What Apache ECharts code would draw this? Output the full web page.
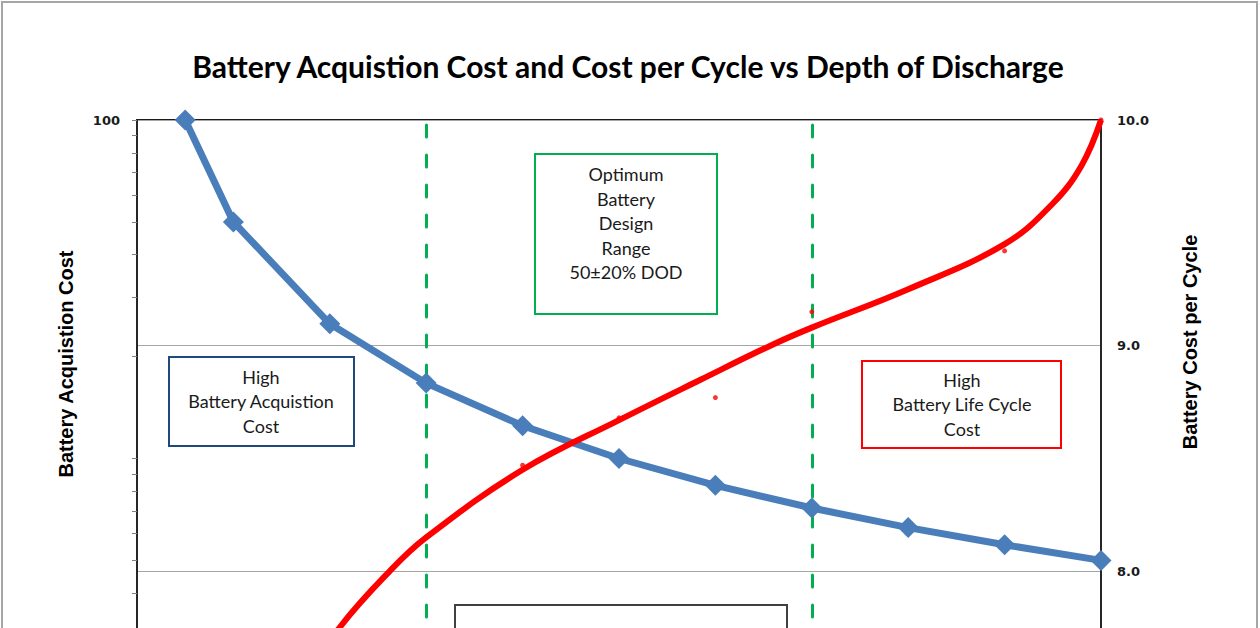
<!DOCTYPE html>
<html>
<head>
<meta charset="utf-8">
<script src="https://cdn.jsdelivr.net/npm/echarts@6/dist/echarts.min.js"></script>
<style>
html,body{margin:0;padding:0;background:#fff;}
#chart{width:1260px;height:628px;}
</style>
</head>
<body>
<div id="chart"></div>
<script>
// Depth of discharge (%) for the acquisition-cost series
const dodPoints = [5, 10, 20, 30, 40, 50, 60, 70, 80, 90, 100];
// Battery acquisition cost (log axis)
const acquisitionCost = [100, 50, 25, 16.7, 12.5, 10, 8.33, 7.14, 6.25, 5.56, 5];
// Cost-per-cycle curve (trend line)
const cycleCurveDod = [15, 21, 26.2, 30, 40, 50, 58.5, 65.7, 70, 80, 90, 95, 98, 100];
const cycleCurveCost = [7.38, 7.75, 8.0, 8.15, 8.45, 8.67, 8.85, 9.0, 9.08, 9.25, 9.45, 9.63, 9.8, 10.0];
// Cost-per-cycle data points (small markers)
const cycleDotDod = [30, 40, 50, 60, 70, 80, 90, 100];
const cycleDotCost = [8.15, 8.47, 8.68, 8.77, 9.15, 9.25, 9.42, 10.0];
// Design-range boundaries
const rangeLines = [30, 70];
// Tick positions for left log axis
const leftTickValues = [2, 3, 4, 5, 6, 7, 8, 9, 10, 20, 30, 40, 50, 60, 70, 80, 90, 100];
const leftLabelValues = [100];
const rightLabelValues = [8, 9, 10];

const chart = echarts.init(document.getElementById('chart'), null, {renderer: 'svg'});

const titleFont = 'Lato, "Open Sans", sans-serif';
const boxFont = 'Lato, "Open Sans", sans-serif';

const option = {
  animation: false,
  backgroundColor: '#ffffff',
  grid: {
    left: 137, right: 159, top: 120, bottom: -169,
    containLabel: false,
    outerBoundsMode: 'none',
    show: true, borderColor: '#1a1a1a', borderWidth: 2, backgroundColor: 'transparent'
  },
  xAxis: {
    type: 'value', min: 0, max: 100, interval: 10,
    axisLine: {show: false}, axisTick: {show: false}, axisLabel: {show: false}, splitLine: {show: false}
  },
  yAxis: [
    {
      type: 'log', logBase: 10, min: 1, max: 100, position: 'left',
      axisLine: {show: true, lineStyle: {color: '#262626', width: 2}},
      axisTick: {show: true, inside: false, length: 5, customValues: leftTickValues, lineStyle: {color: '#7f7f7f', width: 1}},
      axisLabel: {
        show: true, customValues: leftLabelValues, margin: 17,
        formatter: v => String(Math.round(v)),
        fontFamily: '"DejaVu Sans", Verdana, sans-serif', fontWeight: 'bold', fontSize: 13, color: '#1a1a1a'
      },
      splitLine: {show: false},
      minorTick: {show: false}
    },
    {
      type: 'value', min: 7, max: 10, interval: 1, position: 'right',
      axisLine: {show: true, onZero: false, lineStyle: {color: '#262626', width: 2}},
      axisTick: {show: false},
      axisLabel: {
        show: true, margin: 16, customValues: rightLabelValues,
        formatter: v => v.toFixed(1),
        fontFamily: '"DejaVu Sans", Verdana, sans-serif', fontWeight: 'bold', fontSize: 13, color: '#1a1a1a'
      },
      splitLine: {show: true, lineStyle: {color: '#a6a6a6', width: 1}}
    }
  ],
  series: [
    {
      name: 'Battery Acquistion Cost',
      type: 'line', xAxisIndex: 0, yAxisIndex: 0,
      data: dodPoints.map((x, i) => [x, acquisitionCost[i]]),
      symbol: 'diamond', symbolSize: 21,
      itemStyle: {color: '#4a7ebb'},
      lineStyle: {color: '#4a7ebb', width: 7},
      z: 3,
      markLine: {
        silent: true, symbol: 'none', animation: false,
        label: {show: false},
        lineStyle: {color: '#00b050', width: 3, type: [12, 18], cap: 'round'},
        data: rangeLines.map(x => ({xAxis: x})),
        z: 1
      }
    },
    {
      name: 'Battery Cost per Cycle (trend)',
      type: 'line', xAxisIndex: 0, yAxisIndex: 1,
      data: cycleCurveDod.map((x, i) => [x, cycleCurveCost[i]]),
      smooth: 0.4, showSymbol: false, symbol: 'none',
      lineStyle: {color: '#ff0000', width: 6},
      z: 4
    },
    {
      name: 'Battery Cost per Cycle',
      type: 'scatter', xAxisIndex: 0, yAxisIndex: 1,
      data: cycleDotDod.map((x, i) => [x, cycleDotCost[i]]),
      symbol: 'circle', symbolSize: 5,
      itemStyle: {color: '#ff0000'},
      z: 5
    }
  ],
  graphic: [
    {type: 'rect', shape: {x: 2, y: 2, width: 1255, height: 660}, style: {fill: 'none', stroke: '#a6a6a6', lineWidth: 2}, z: 100, silent: true},
    {type: 'text', x: 628, y: 66, style: {text: 'Battery Acquistion Cost and Cost per Cycle vs Depth of Discharge', font: 'bold 30px ' + titleFont, fill: '#000', align: 'center', verticalAlign: 'middle'}, z: 100},
    {type: 'text', x: 66, y: 364, rotation: Math.PI / 2, style: {text: 'Battery Acquistion Cost', font: 'bold 20px "Liberation Sans", Arial, sans-serif', fill: '#000', align: 'center', verticalAlign: 'middle'}, z: 100},
    {type: 'text', x: 1190, y: 342, rotation: Math.PI / 2, style: {text: 'Battery Cost per Cycle', font: 'bold 20px "Liberation Sans", Arial, sans-serif', fill: '#000', align: 'center', verticalAlign: 'middle'}, z: 100},
    // Optimum range box
    {type: 'rect', shape: {x: 535, y: 154, width: 182, height: 160}, style: {fill: '#fff', stroke: '#00b050', lineWidth: 2}, z: 50},
    {type: 'text', x: 626, y: 223, style: {text: 'Optimum\nBattery\nDesign\nRange\n50±20% DOD', font: '18px ' + boxFont, lineHeight: 24.5, fill: '#1a1a1a', align: 'center', verticalAlign: 'middle'}, z: 51},
    // High acquisition cost box
    {type: 'rect', shape: {x: 169, y: 357, width: 185, height: 89}, style: {fill: '#fff', stroke: '#1f497d', lineWidth: 2}, z: 50},
    {type: 'text', x: 261, y: 401, style: {text: 'High\nBattery Acquistion\nCost', font: '18px ' + boxFont, lineHeight: 24.5, fill: '#1a1a1a', align: 'center', verticalAlign: 'middle'}, z: 51},
    // High life cycle cost box
    {type: 'rect', shape: {x: 862, y: 361, width: 199, height: 87}, style: {fill: '#fff', stroke: '#ff0000', lineWidth: 2}, z: 50},
    {type: 'text', x: 962, y: 404, style: {text: 'High\nBattery Life Cycle\nCost', font: '18px ' + boxFont, lineHeight: 24.5, fill: '#1a1a1a', align: 'center', verticalAlign: 'middle'}, z: 51},
    // Bottom box (cut off)
    {type: 'rect', shape: {x: 455, y: 605, width: 332, height: 80}, style: {fill: '#fff', stroke: '#404040', lineWidth: 2}, z: 50}
  ]
};

chart.setOption(option);
</script>
</body>
</html>
